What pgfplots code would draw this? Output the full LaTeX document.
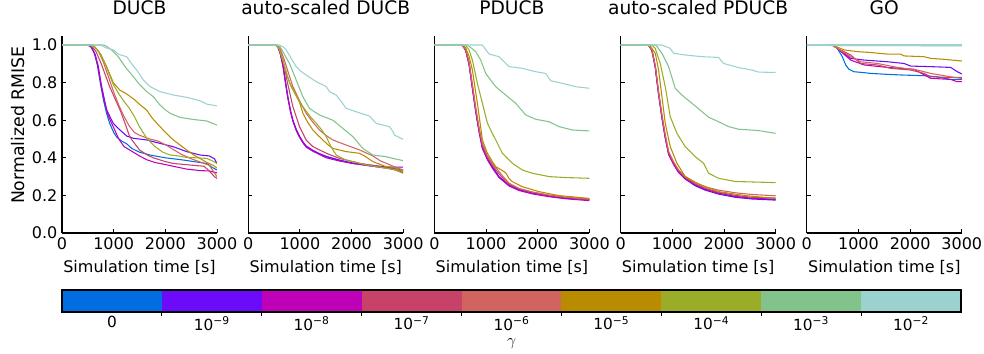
\documentclass[border=0pt]{standalone}
\usepackage{fontspec}
\setmainfont{DejaVu Sans}
\usepackage{pgfplots}
\pgfplotsset{compat=1.18}
\definecolor{c0}{RGB}{0,110,224}
\definecolor{c1}{RGB}{108,10,250}
\definecolor{c2}{RGB}{190,0,185}
\definecolor{c3}{RGB}{200,65,105}
\definecolor{c4}{RGB}{210,100,95}
\definecolor{c5}{RGB}{185,140,0}
\definecolor{c6}{RGB}{155,172,40}
\definecolor{c7}{RGB}{130,195,140}
\definecolor{c8}{RGB}{155,210,208}
\pgfplotsset{
 panel/.style={
  scale only axis, width=116.25pt, height=147.75pt,
  anchor=south west,
  xmin=0, xmax=3000, ymin=0, ymax=1.048,
  axis x line*=bottom, axis y line*=left,
  xtick={0,1000,2000,3000}, ytick={0,0.2,0.4,0.6,0.8,1.0},
  scaled x ticks=false,
  tick align=inside, major tick length=3pt,
  tick style={black, line width=0.6pt},
  axis line style={black, line width=0.8pt},
  every axis plot/.append style={line width=0.8pt, mark=none},
  title style={at={(0.5,1.0677)}, anchor=base, font=\fontsize{14}{16}\selectfont},
  xlabel={Simulation time [s]},
  xlabel style={at={(axis description cs:0.5,-0.2017)}, anchor=base, font=\fontsize{12}{14}\selectfont},
  ylabel style={font=\fontsize{13}{15}\selectfont},
  ticklabel style={font=\fontsize{12}{14}\selectfont},
  /pgf/number format/assume math mode=true,
  /pgf/number format/1000 sep={},
  yticklabel style={/pgf/number format/.cd, fixed, fixed zerofill, precision=1, /tikz/.cd},
 }
}
\begin{document}
\begin{tikzpicture}
\useasboundingbox (0,0) rectangle (738pt,-264.75pt);
% ---------------- DUCB
\begin{axis}[panel, at={(46.5pt,-174.75pt)}, title={DUCB},
  ylabel={Normalized RMISE},
  ylabel style={at={(axis description cs:-0.245,0.548)}, anchor=base}]
\addplot[c0] coordinates {(0,1)(500,1)(560,0.99)(620,0.96)(680,0.90)(740,0.80)(800,0.71)(860,0.64)(920,0.585)(1000,0.535)(1060,0.51)(1150,0.49)(1250,0.475)(1350,0.45)(1500,0.43)(1700,0.415)(2000,0.40)(2300,0.39)(2550,0.38)(2800,0.37)(2900,0.35)(3000,0.335)};
\addplot[c1] coordinates {(0,1)(500,1)(570,0.99)(640,0.95)(700,0.89)(760,0.79)(820,0.71)(864,0.655)(993,0.583)(1122,0.548)(1251,0.516)(1380,0.504)(1638,0.495)(1896,0.477)(2154,0.459)(2412,0.433)(2670,0.415)(2850,0.41)(2950,0.395)(3000,0.37)};
\addplot[c2] coordinates {(0,1)(500,1)(570,0.99)(640,0.95)(700,0.88)(760,0.78)(830,0.69)(900,0.62)(1000,0.56)(1100,0.50)(1200,0.46)(1380,0.43)(1500,0.41)(1638,0.39)(1800,0.375)(1896,0.37)(2154,0.355)(2412,0.34)(2670,0.332)(2850,0.33)(3000,0.32)};
\addplot[c3] coordinates {(0,1)(550,1)(650,0.97)(760,0.90)(840,0.84)(920,0.78)(1032,0.71)(1130,0.65)(1225,0.58)(1300,0.52)(1354,0.495)(1450,0.46)(1509,0.44)(1650,0.415)(1767,0.40)(2000,0.38)(2154,0.37)(2541,0.36)(2750,0.355)(2850,0.33)(2950,0.30)(3000,0.29)};
\addplot[c4] coordinates {(0,1)(600,1)(700,0.97)(800,0.91)(900,0.83)(1000,0.75)(1100,0.68)(1200,0.62)(1300,0.57)(1400,0.535)(1500,0.52)(1600,0.51)(1700,0.50)(1850,0.49)(2000,0.47)(2150,0.445)(2300,0.42)(2500,0.395)(2700,0.375)(2850,0.36)(2950,0.32)(3000,0.30)};
\addplot[c5] coordinates {(0,1)(550,1)(650,0.985)(750,0.95)(864,0.885)(993,0.80)(1120,0.76)(1251,0.74)(1400,0.71)(1500,0.685)(1638,0.654)(1750,0.61)(1896,0.566)(2020,0.53)(2154,0.495)(2300,0.465)(2412,0.442)(2550,0.415)(2670,0.397)(2800,0.375)(2928,0.36)(3000,0.345)};
\addplot[c6] coordinates {(0,1)(550,1)(650,0.985)(750,0.95)(864,0.88)(993,0.79)(1100,0.74)(1200,0.70)(1300,0.665)(1400,0.62)(1500,0.565)(1650,0.50)(1800,0.46)(1950,0.43)(2090,0.415)(2250,0.41)(2412,0.402)(2600,0.40)(2799,0.397)(2900,0.385)(3000,0.37)};
\addplot[c7] coordinates {(0,1)(800,1)(850,0.995)(961,0.974)(1090,0.938)(1219,0.885)(1380,0.832)(1500,0.79)(1650,0.75)(1767,0.725)(1896,0.681)(2000,0.655)(2090,0.637)(2283,0.615)(2541,0.604)(2799,0.596)(2900,0.585)(3000,0.574)};
\addplot[c8] coordinates {(0,1)(750,1)(850,0.985)(993,0.974)(1100,0.95)(1251,0.938)(1350,0.90)(1445,0.867)(1574,0.814)(1703,0.779)(1896,0.752)(2154,0.734)(2412,0.722)(2606,0.708)(2700,0.70)(2799,0.686)(3000,0.676)};
\end{axis}
% ---------------- auto-scaled DUCB
\begin{axis}[panel, at={(186.15pt,-174.75pt)}, title={auto-scaled DUCB}, yticklabels={}]
\addplot[c0] coordinates {(0,1)(530,1)(574,0.99)(620,0.96)(671,0.90)(720,0.81)(767,0.725)(820,0.65)(864,0.60)(930,0.55)(993,0.512)(1060,0.48)(1122,0.459)(1251,0.438)(1380,0.42)(1509,0.406)(1767,0.385)(2025,0.37)(2412,0.355)(2799,0.345)(3000,0.335)};
\addplot[c1] coordinates {(0,1)(530,1)(574,0.99)(620,0.955)(671,0.895)(720,0.805)(767,0.72)(820,0.645)(864,0.60)(930,0.55)(993,0.515)(1060,0.485)(1122,0.463)(1251,0.44)(1380,0.422)(1509,0.408)(1767,0.388)(2025,0.372)(2412,0.36)(2700,0.35)(3000,0.35)};
\addplot[c2] coordinates {(0,1)(530,1)(574,0.99)(620,0.955)(671,0.89)(720,0.80)(767,0.72)(820,0.645)(864,0.595)(930,0.545)(993,0.51)(1060,0.48)(1122,0.457)(1251,0.435)(1380,0.418)(1509,0.40)(1767,0.383)(2025,0.37)(2412,0.355)(2799,0.34)(3000,0.32)};
\addplot[c3] coordinates {(0,1)(540,1)(600,0.98)(680,0.91)(760,0.80)(864,0.673)(993,0.566)(1122,0.495)(1250,0.46)(1380,0.442)(1550,0.42)(1767,0.397)(2154,0.371)(2541,0.353)(2800,0.34)(3000,0.327)};
\addplot[c4] coordinates {(0,1)(550,1)(620,0.98)(700,0.92)(780,0.85)(864,0.78)(1000,0.70)(1122,0.637)(1250,0.59)(1380,0.548)(1500,0.52)(1638,0.495)(1896,0.468)(2154,0.442)(2412,0.41)(2550,0.385)(2670,0.371)(2850,0.35)(3000,0.335)};
\addplot[c5] coordinates {(0,1)(540,1)(600,0.98)(670,0.92)(735,0.85)(830,0.78)(929,0.73)(1000,0.69)(1058,0.637)(1150,0.59)(1251,0.548)(1350,0.52)(1445,0.495)(1540,0.47)(1638,0.45)(1896,0.433)(2154,0.424)(2250,0.41)(2412,0.38)(2550,0.365)(2670,0.353)(2800,0.35)(3000,0.327)};
\addplot[c6] coordinates {(0,1)(540,1)(600,0.98)(680,0.91)(800,0.80)(930,0.73)(1058,0.672)(1200,0.62)(1316,0.584)(1420,0.55)(1509,0.513)(1600,0.46)(1703,0.415)(1800,0.40)(1896,0.388)(2283,0.362)(2670,0.345)(2850,0.335)(3000,0.318)};
\addplot[c7] coordinates {(0,1)(560,1)(620,0.99)(680,0.96)(740,0.93)(800,0.902)(929,0.814)(1058,0.725)(1187,0.663)(1280,0.645)(1380,0.628)(1638,0.60)(1831,0.557)(2025,0.513)(2219,0.45)(2412,0.415)(2670,0.406)(2799,0.397)(3000,0.385)};
\addplot[c8] coordinates {(0,1)(600,1)(680,0.99)(735,0.974)(830,0.93)(929,0.885)(1022,0.86)(1122,0.84)(1316,0.805)(1509,0.779)(1574,0.752)(1703,0.734)(1800,0.70)(1896,0.663)(2090,0.645)(2348,0.622)(2420,0.60)(2477,0.583)(2735,0.566)(2800,0.54)(2832,0.521)(3000,0.498)};
\end{axis}
% ---------------- PDUCB
\begin{axis}[panel, at={(325.8pt,-174.75pt)}, title={PDUCB}, yticklabels={}]
\addplot[c0] coordinates {(0,1)(540,1)(606,0.974)(671,0.902)(735,0.778)(800,0.654)(864,0.548)(929,0.459)(1026,0.397)(1122,0.353)(1251,0.30)(1445,0.255)(1638,0.232)(1896,0.215)(2219,0.199)(2541,0.188)(3000,0.18)};
\addplot[c1] coordinates {(0,1)(540,1)(606,0.972)(671,0.898)(735,0.772)(800,0.648)(864,0.542)(929,0.45)(1026,0.392)(1122,0.35)(1251,0.298)(1445,0.253)(1638,0.23)(1896,0.213)(2219,0.197)(2541,0.185)(3000,0.177)};
\addplot[c2] coordinates {(0,1)(540,1)(606,0.97)(671,0.895)(735,0.77)(800,0.645)(864,0.54)(929,0.452)(1026,0.39)(1122,0.345)(1251,0.295)(1445,0.25)(1638,0.226)(1896,0.208)(2219,0.193)(2541,0.182)(3000,0.172)};
\addplot[c3] coordinates {(0,1)(540,1)(606,0.975)(671,0.905)(735,0.785)(800,0.66)(864,0.555)(929,0.47)(1026,0.405)(1122,0.36)(1251,0.315)(1380,0.275)(1445,0.26)(1638,0.235)(1896,0.217)(2219,0.2)(2541,0.19)(3000,0.178)};
\addplot[c4] coordinates {(0,1)(540,1)(606,0.976)(671,0.908)(735,0.79)(800,0.665)(864,0.56)(929,0.475)(1026,0.41)(1122,0.37)(1200,0.345)(1300,0.31)(1445,0.265)(1638,0.237)(1896,0.218)(2219,0.202)(2541,0.19)(3000,0.18)};
\addplot[c5] coordinates {(0,1)(560,1)(606,0.985)(671,0.94)(735,0.867)(832,0.69)(929,0.495)(1026,0.424)(1122,0.38)(1187,0.353)(1300,0.335)(1380,0.32)(1445,0.29)(1509,0.273)(1703,0.246)(2025,0.220)(2412,0.199)(3000,0.184)};
\addplot[c6] coordinates {(0,1)(600,1)(671,0.974)(735,0.92)(832,0.796)(929,0.69)(1026,0.584)(1122,0.530)(1187,0.495)(1316,0.424)(1509,0.371)(1703,0.335)(1896,0.318)(2219,0.30)(2541,0.295)(3000,0.291)};
\addplot[c7] coordinates {(0,1)(640,1)(800,0.965)(896,0.92)(993,0.849)(1187,0.778)(1380,0.734)(1574,0.69)(1767,0.628)(1960,0.605)(2219,0.592)(2412,0.566)(2670,0.548)(3000,0.543)};
\addplot[c8] coordinates {(0,1)(929,1)(1058,0.952)(1251,0.938)(1445,0.885)(1703,0.876)(1960,0.858)(2154,0.849)(2251,0.81)(2477,0.796)(2735,0.778)(3000,0.77)};
\end{axis}
% ---------------- auto-scaled PDUCB
\begin{axis}[panel, at={(465.45pt,-174.75pt)}, title={auto-scaled PDUCB}, yticklabels={}]
\addplot[c0] coordinates {(0,1)(540,1)(606,0.974)(671,0.885)(735,0.743)(800,0.619)(864,0.513)(929,0.424)(1026,0.371)(1122,0.327)(1251,0.291)(1445,0.255)(1638,0.232)(1896,0.211)(2219,0.193)(2541,0.184)(3000,0.178)};
\addplot[c1] coordinates {(0,1)(540,1)(606,0.972)(671,0.882)(735,0.74)(800,0.615)(864,0.508)(929,0.42)(1026,0.366)(1122,0.322)(1251,0.287)(1445,0.251)(1638,0.228)(1896,0.207)(2219,0.19)(2541,0.181)(3000,0.175)};
\addplot[c2] coordinates {(0,1)(540,1)(606,0.97)(671,0.88)(735,0.738)(800,0.612)(864,0.505)(929,0.418)(1026,0.365)(1122,0.323)(1251,0.29)(1445,0.256)(1638,0.233)(1896,0.212)(2219,0.195)(2541,0.185)(3000,0.18)};
\addplot[c3] coordinates {(0,1)(540,1)(606,0.975)(671,0.888)(735,0.748)(800,0.625)(864,0.52)(929,0.43)(1026,0.375)(1122,0.332)(1251,0.296)(1445,0.262)(1638,0.238)(1896,0.217)(2219,0.2)(2541,0.19)(3000,0.186)};
\addplot[c4] coordinates {(0,1)(540,1)(606,0.976)(671,0.89)(735,0.75)(800,0.628)(864,0.522)(929,0.433)(1026,0.378)(1122,0.335)(1251,0.3)(1445,0.268)(1638,0.245)(1896,0.228)(2219,0.214)(2541,0.205)(3000,0.198)};
\addplot[c5] coordinates {(0,1)(560,1)(671,0.956)(735,0.867)(800,0.725)(864,0.584)(961,0.459)(1090,0.371)(1251,0.30)(1509,0.261)(1896,0.22)(2412,0.199)(3000,0.184)};
\addplot[c6] coordinates {(0,1)(600,1)(671,0.982)(767,0.902)(864,0.778)(961,0.619)(1090,0.53)(1251,0.459)(1445,0.406)(1606,0.371)(1703,0.318)(1896,0.291)(2219,0.274)(3000,0.268)};
\addplot[c7] coordinates {(0,1)(680,1)(800,0.956)(929,0.885)(1058,0.769)(1187,0.734)(1380,0.69)(1574,0.646)(1703,0.616)(1896,0.592)(2090,0.566)(2283,0.552)(2670,0.545)(3000,0.53)};
\addplot[c8] coordinates {(0,1)(800,1)(961,0.982)(1026,0.956)(1251,0.947)(1574,0.938)(1896,0.934)(1992,0.902)(2283,0.88)(2541,0.867)(2670,0.856)(3000,0.854)};
\end{axis}
% ---------------- GO
\begin{axis}[panel, at={(605.1pt,-174.75pt)}, title={GO}, yticklabels={}]
\addplot[c0] coordinates {(0,1)(494,1)(590,0.982)(687,0.938)(752,0.894)(816,0.871)(913,0.858)(1107,0.853)(1236,0.849)(1558,0.844)(1881,0.84)(2268,0.837)(2526,0.831)(2784,0.817)(3000,0.817)};
\addplot[c1] coordinates {(0,1)(494,1)(590,0.982)(849,0.929)(1107,0.92)(1558,0.911)(1881,0.902)(2010,0.888)(2397,0.885)(2784,0.881)(2913,0.858)(3000,0.846)};
\addplot[c2] coordinates {(0,1)(494,1)(590,0.982)(849,0.92)(1107,0.894)(1558,0.881)(2074,0.871)(2397,0.823)(2784,0.817)(2913,0.805)(3000,0.805)};
\addplot[c3] coordinates {(0,1)(494,1)(590,0.982)(849,0.947)(1042,0.902)(1365,0.894)(1623,0.876)(2010,0.867)(2268,0.849)(2397,0.831)(2720,0.828)(3000,0.828)};
\addplot[c4] coordinates {(0,1)(494,1)(590,0.982)(849,0.938)(1042,0.911)(1365,0.902)(1752,0.881)(2139,0.867)(2397,0.849)(2784,0.831)(3000,0.822)};
\addplot[c5] coordinates {(0,1)(494,1)(720,0.974)(978,0.965)(1236,0.96)(1558,0.952)(1816,0.952)(1881,0.942)(2268,0.938)(2397,0.929)(2655,0.924)(3000,0.915)};
\addplot[c6] coordinates {(0,1)(3000,1)};
\addplot[c7] coordinates {(0,1)(500,0.997)(3000,0.996)};
\addplot[c8] coordinates {(0,1)(3000,1)};
\end{axis}
% ---------------- colour bar
\begin{axis}[at={(46.5pt,-234pt)}, anchor=south west, scale only axis,
  width=674.25pt, height=16.5pt,
  xmin=0, xmax=9, ymin=0, ymax=1, axis on top,
  ytick=\empty,
  xtick={0.5,1.5,2.5,3.5,4.5,5.5,6.5,7.5,8.5},
  xticklabels={0,10\textsuperscript{−9},10\textsuperscript{−8},10\textsuperscript{−7},10\textsuperscript{−6},10\textsuperscript{−5},10\textsuperscript{−4},10\textsuperscript{−3},10\textsuperscript{−2}},
  xtick pos=left, major tick length=0pt,
  extra x ticks={1,2,3,4,5,6,7,8}, extra x tick labels={},
  extra x tick style={major tick length=3pt, tick align=outside, xtick pos=left},
  tick style={black, line width=0.6pt},
  axis line style={black, line width=0.8pt},
  xticklabel style={font=\fontsize{11.5}{13}\selectfont, inner sep=2pt, yshift=-1pt},
  xlabel={$\gamma$},
  xlabel style={at={(axis description cs:0.5,-1.52)}, anchor=base, inner sep=0pt, font=\fontsize{12}{14}\selectfont}]
\addplot[fill=c0, draw=none] coordinates {(0,0)(0,1)(1,1)(1,0)} -- cycle;
\addplot[fill=c1, draw=none] coordinates {(1,0)(1,1)(2,1)(2,0)} -- cycle;
\addplot[fill=c2, draw=none] coordinates {(2,0)(2,1)(3,1)(3,0)} -- cycle;
\addplot[fill=c3, draw=none] coordinates {(3,0)(3,1)(4,1)(4,0)} -- cycle;
\addplot[fill=c4, draw=none] coordinates {(4,0)(4,1)(5,1)(5,0)} -- cycle;
\addplot[fill=c5, draw=none] coordinates {(5,0)(5,1)(6,1)(6,0)} -- cycle;
\addplot[fill=c6, draw=none] coordinates {(6,0)(6,1)(7,1)(7,0)} -- cycle;
\addplot[fill=c7, draw=none] coordinates {(7,0)(7,1)(8,1)(8,0)} -- cycle;
\addplot[fill=c8, draw=none] coordinates {(8,0)(8,1)(9,1)(9,0)} -- cycle;
\end{axis}
\end{tikzpicture}
\end{document}
